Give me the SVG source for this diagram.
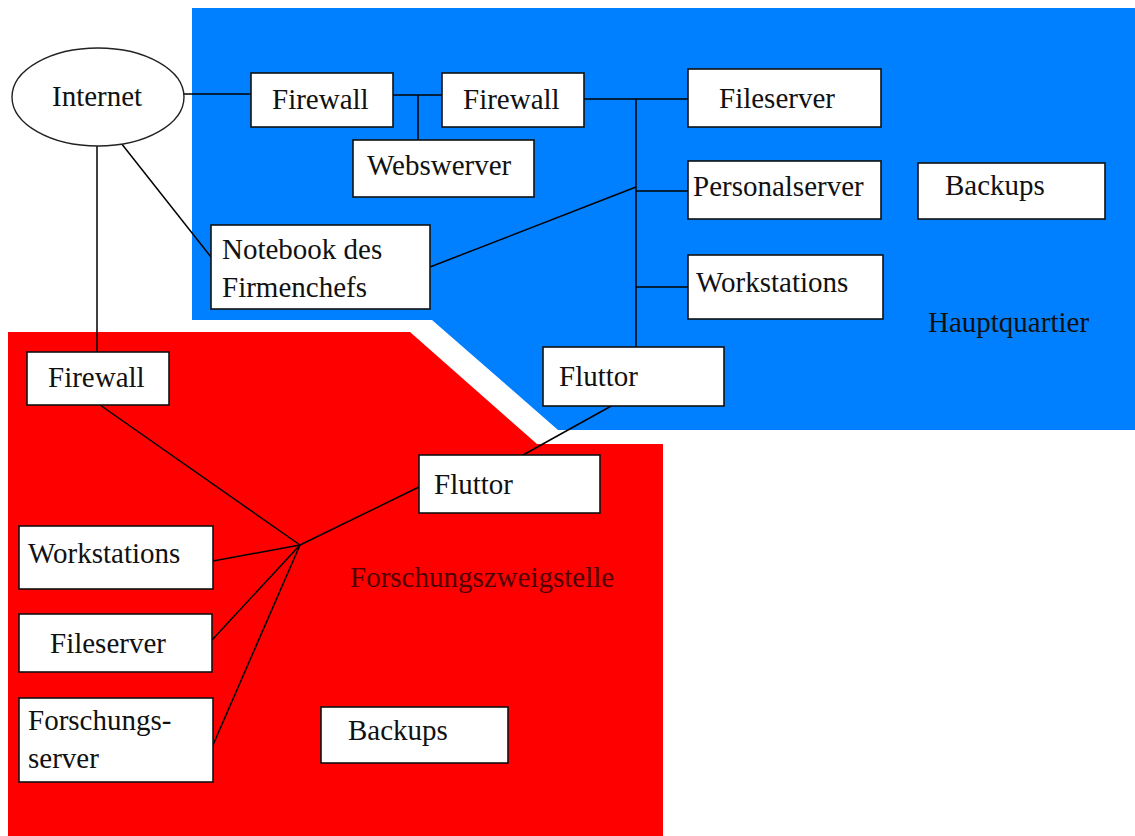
<svg xmlns="http://www.w3.org/2000/svg" width="1135" height="836" viewBox="0 0 1135 836">
<style>
.box{fill:#fff;stroke:#111;stroke-width:1.6}
.t{font-family:'Liberation Serif','DejaVu Serif',serif;font-size:29px;fill:#111}
.c{stroke:#000;stroke-width:1.5;fill:none}
</style>
<rect x="0" y="0" width="1135" height="836" fill="#fff"/>
<g id="hauptquartier-area">
<polygon points="192,8 1135,8 1135,430 558,430 432,320 192,320" fill="#0080ff"/>
<text class="t" x="928" y="332" font-family="Liberation Serif">Hauptquartier</text>
</g>
<g id="forschung-area">
<polygon points="8,332 410,332 537,444 663,444 663,836 8,836" fill="#ff0000"/>
<text class="t" x="350" y="587" font-family="Liberation Serif" style="fill:#500000">Forschungszweigstelle</text>
</g>
<g id="connectors">
<line class="c" x1="183" y1="94" x2="251" y2="94"/>
<line class="c" x1="393" y1="95" x2="442" y2="95"/>
<line class="c" x1="418" y1="95" x2="418" y2="140"/>
<line class="c" x1="584" y1="99" x2="688" y2="99"/>
<line class="c" x1="636" y1="99" x2="636" y2="347"/>
<line class="c" x1="636" y1="191" x2="688" y2="191"/>
<line class="c" x1="636" y1="287" x2="688" y2="287"/>
<line class="c" x1="430" y1="267" x2="636" y2="187"/>
<line class="c" x1="121" y1="143" x2="211" y2="257"/>
<line class="c" x1="97" y1="146" x2="97" y2="352"/>
<line class="c" x1="613" y1="405" x2="523" y2="455"/>
<line class="c" x1="100" y1="405" x2="300" y2="545"/>
<line class="c" x1="419" y1="487" x2="300" y2="545"/>
<line class="c" x1="213" y1="561" x2="300" y2="545"/>
<line class="c" x1="212" y1="640" x2="300" y2="545"/>
<line class="c" x1="213" y1="745" x2="300" y2="545"/>
</g>
<g id="internet">
<ellipse cx="98" cy="97" rx="86" ry="49" fill="#fff" stroke="#222" stroke-width="1.4"/>
<text class="t" x="52" y="106" font-family="Liberation Serif">Internet</text>
</g>
<g id="firewall-hq-1">
<rect class="box" x="251" y="73" width="142" height="54"/>
<text class="t" x="272" y="109" font-family="Liberation Serif">Firewall</text>
</g>
<g id="firewall-hq-2">
<rect class="box" x="442" y="73" width="142" height="54"/>
<text class="t" x="463" y="109" font-family="Liberation Serif">Firewall</text>
</g>
<g id="webswerver">
<rect class="box" x="353" y="140" width="181" height="57"/>
<text class="t" x="367" y="175" font-family="Liberation Serif">Webswerver</text>
</g>
<g id="notebook">
<rect class="box" x="211" y="225" width="219" height="84"/>
<text class="t" x="222" y="259" font-family="Liberation Serif">Notebook des</text>
<text class="t" x="222" y="297" font-family="Liberation Serif">Firmenchefs</text>
</g>
<g id="fileserver-hq">
<rect class="box" x="688" y="69" width="193" height="58"/>
<text class="t" x="719" y="108" font-family="Liberation Serif">Fileserver</text>
</g>
<g id="personalserver">
<rect class="box" x="688" y="161" width="193" height="58"/>
<text class="t" x="693" y="196" font-family="Liberation Serif">Personalserver</text>
</g>
<g id="backups-hq">
<rect class="box" x="918" y="163" width="187" height="56"/>
<text class="t" x="945" y="195" font-family="Liberation Serif">Backups</text>
</g>
<g id="workstations-hq">
<rect class="box" x="688" y="255" width="195" height="64"/>
<text class="t" x="696" y="292" font-family="Liberation Serif">Workstations</text>
</g>
<g id="fluttor-hq">
<rect class="box" x="543" y="347" width="181" height="59"/>
<text class="t" x="559" y="386" font-family="Liberation Serif">Fluttor</text>
</g>
<g id="firewall-fz">
<rect class="box" x="27" y="352" width="142" height="53"/>
<text class="t" x="48" y="387" font-family="Liberation Serif">Firewall</text>
</g>
<g id="fluttor-fz">
<rect class="box" x="419" y="455" width="181" height="58"/>
<text class="t" x="434" y="494" font-family="Liberation Serif">Fluttor</text>
</g>
<g id="workstations-fz">
<rect class="box" x="19" y="526" width="194" height="63"/>
<text class="t" x="28" y="563" font-family="Liberation Serif">Workstations</text>
</g>
<g id="fileserver-fz">
<rect class="box" x="19" y="614" width="193" height="58"/>
<text class="t" x="50" y="653" font-family="Liberation Serif">Fileserver</text>
</g>
<g id="forschungsserver">
<rect class="box" x="19" y="698" width="194" height="84"/>
<text class="t" x="28" y="730" font-family="Liberation Serif">Forschungs-</text>
<text class="t" x="28" y="768" font-family="Liberation Serif">server</text>
</g>
<g id="backups-fz">
<rect class="box" x="321" y="707" width="187" height="56"/>
<text class="t" x="348" y="740" font-family="Liberation Serif">Backups</text>
</g>
</svg>
